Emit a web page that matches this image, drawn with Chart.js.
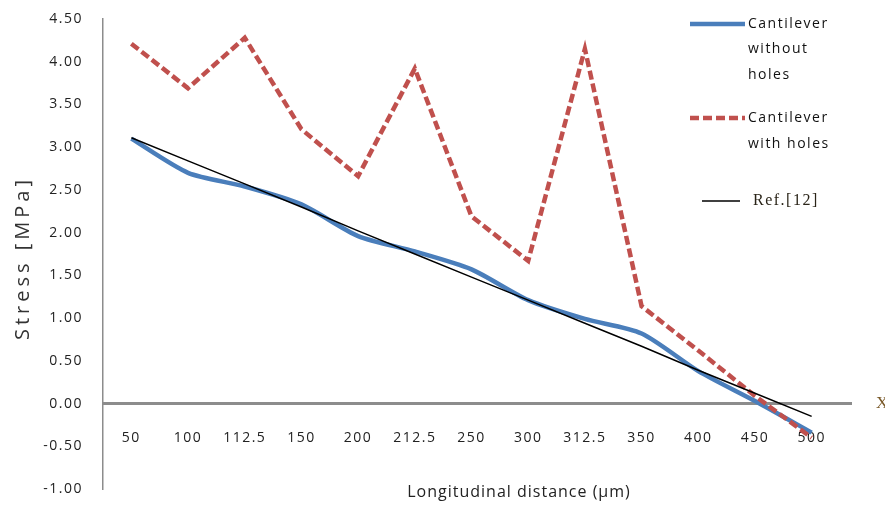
<!DOCTYPE html>
<html>
<head>
<meta charset="utf-8">
<script src="https://cdn.jsdelivr.net/npm/chart.js@4.4.0/dist/chart.umd.min.js"></script>
<style>
    html, body { margin: 0; padding: 0; background: #fff; }
</style>
</head>
<body>
<canvas id="stressChart" width="885" height="505"></canvas>
<script>
// Longitudinal distance categories (um)
const distances = ['50', '100', '112.5', '150', '200', '212.5', '250', '300', '312.5', '350', '400', '450', '500'];

// Stress values [MPa]
const withoutHoles = [3.10, 2.70, 2.54, 2.33, 1.96, 1.78, 1.57, 1.21, 0.99, 0.82, 0.38, 0.03, -0.34];
const withHoles = [4.21, 3.69, 4.28, 3.21, 2.66, 3.92, 2.19, 1.67, 4.15, 1.14, 0.62, 0.09, -0.40];
const refValues = [3.11, 2.84, 2.57, 2.30, 2.02, 1.75, 1.48, 1.21, 0.94, 0.67, 0.39, 0.12, -0.15];

// y axis ticks
const yTicks = [-1.00, -0.50, 0.00, 0.50, 1.00, 1.50, 2.00, 2.50, 3.00, 3.50, 4.00, 4.50];

const FONT = 'Open Sans';

// zero line, legend and titles drawn on top of the chart
const extrasPlugin = {
    id: 'extras',
    beforeDraw(chart) {
        chart.ctx.letterSpacing = '1.5px';
    },
    beforeDatasetsDraw(chart) {
        const { ctx, chartArea, scales } = chart;
        const y0 = scales.y.getPixelForValue(0);
        ctx.save();
        ctx.strokeStyle = '#8c8c8c';
        ctx.lineWidth = 3;
        ctx.beginPath();
        ctx.moveTo(chartArea.left, y0);
        ctx.lineTo(852, y0);
        ctx.stroke();
        ctx.restore();
    },
    afterDraw(chart) {
        const ctx = chart.ctx;
        const ds = chart.data.datasets;
        ctx.save();

        // y title
        ctx.save();
        ctx.translate(23, 258);
        ctx.rotate(-Math.PI / 2);
        ctx.letterSpacing = '4px';
        ctx.font = '20px "' + FONT + '"';
        ctx.fillStyle = '#333';
        ctx.textAlign = 'center';
        ctx.textBaseline = 'middle';
        ctx.fillText('Stress [MPa]', 0, 0);
        ctx.restore();

        // x title
        ctx.letterSpacing = '1px';
        ctx.font = '16px "' + FONT + '"';
        ctx.fillStyle = '#222';
        ctx.textAlign = 'center';
        ctx.textBaseline = 'middle';
        ctx.fillText('Longitudinal distance (\u00b5m)', 519, 492);

        // legend
        const items = [
            { d: ds[0], x1: 690, x2: 745, y: 24, tx: 748, step: 25.5 },
            { d: ds[1], x1: 690, x2: 745, y: 118, tx: 748, step: 26 },
            { d: ds[2], x1: 702, x2: 740, y: 201, tx: 753, step: 0 }
        ];
        items.forEach(it => {
            ctx.save();
            ctx.strokeStyle = it.d.borderColor;
            ctx.lineWidth = it.d.borderWidth;
            ctx.setLineDash(it.d.borderDash || []);
            ctx.beginPath();
            ctx.moveTo(it.x1, it.y);
            ctx.lineTo(it.x2, it.y);
            ctx.stroke();
            ctx.restore();
            ctx.textAlign = 'left';
            ctx.textBaseline = 'middle';
            if (it.d.serif) {
                ctx.letterSpacing = '1.5px';
                ctx.font = '16px "Liberation Serif"';
                ctx.fillStyle = '#2a2418';
            } else {
                ctx.letterSpacing = '1.5px';
                ctx.font = '14px "' + FONT + '"';
                ctx.fillStyle = '#111';
            }
            [].concat(it.d.label).forEach((line, i) => {
                ctx.fillText(line, it.tx, it.y + i * it.step);
            });
        });

        // axis letter at the end of the zero line
        ctx.letterSpacing = '0px';
        ctx.font = '17px "Liberation Serif"';
        ctx.fillStyle = '#7a5a2a';
        ctx.textAlign = 'left';
        ctx.fillText('X', 876, chart.scales.y.getPixelForValue(0));
        ctx.restore();
    }
};

new Chart(document.getElementById('stressChart'), {
    type: 'line',
    data: {
        labels: distances,
        datasets: [
            {
                label: ['Cantilever', 'without', 'holes'],
                data: withoutHoles,
                borderColor: '#4a7ebb',
                borderWidth: 4.5,
                tension: 0.25,
                order: 3
            },
            {
                label: ['Cantilever', 'with holes'],
                data: withHoles,
                borderColor: '#c0504d',
                borderWidth: 4.5,
                borderDash: [9, 4],
                order: 2
            },
            {
                label: 'Ref.[12]',
                data: refValues,
                borderColor: '#000',
                borderWidth: 1.5,
                serif: true,
                order: 1
            }
        ]
    },
    options: {
        responsive: false,
        animation: false,
        devicePixelRatio: 1,
        layout: { padding: { left: 0, right: 45, top: 19, bottom: 16 } },
        elements: {
            point: { radius: 0 },
            line: { tension: 0, borderCapStyle: 'butt', borderJoinStyle: 'miter' }
        },
        plugins: {
            legend: { display: false },
            tooltip: { enabled: false }
        },
        scales: {
            x: {
                type: 'category',
                position: { y: 0 },
                offset: true,
                grid: { display: false, drawTicks: false },
                border: { display: false },
                afterFit: s => { s.paddingLeft = 0; s.paddingRight = 0; },
                ticks: {
                    padding: 26,
                    color: '#222',
                    maxRotation: 0,
                    autoSkip: false,
                    font: { family: FONT, size: 14 }
                }
            },
            y: {
                min: -1,
                max: 4.5,
                grid: { display: false, drawTicks: false },
                border: { display: true, color: '#8c8c8c', width: 1.5 },
                afterBuildTicks: s => { s.ticks = yTicks.map(v => ({ value: v })); },
                afterFit: s => { s.width = 103; s.paddingTop = 0; s.paddingBottom = 0; },
                ticks: {
                    padding: 20,
                    color: '#222',
                    font: { family: FONT, size: 14 },
                    callback: v => Number(v).toFixed(2)
                }
            }
        }
    },
    plugins: [extrasPlugin]
});
</script>
</body>
</html>
